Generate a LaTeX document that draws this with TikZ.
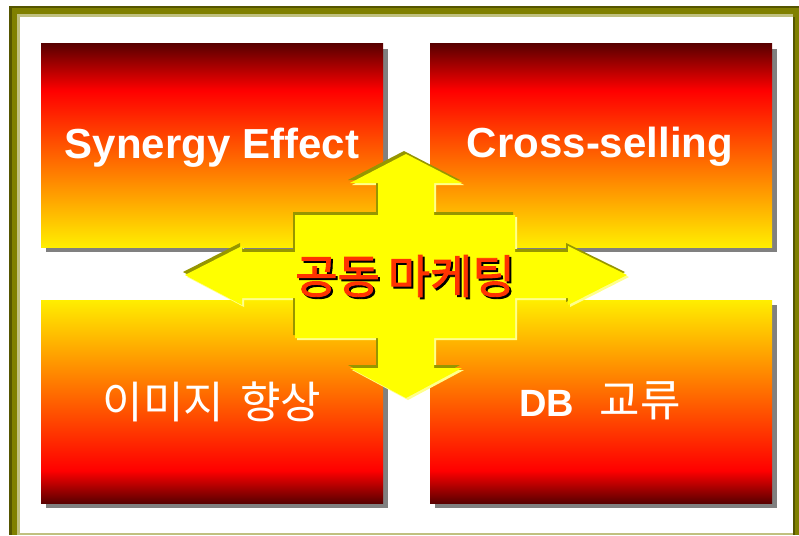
\documentclass[tikz,border=0pt]{standalone}
\usepackage{fontspec}
\setmainfont{Liberation Sans}
\newfontfamily\kr{Noto Sans CJK KR}
\newfontfamily\krmed{Noto Sans CJK KR}[FakeBold=2]
\definecolor{bdark}{RGB}{90,0,0}
\definecolor{bred}{RGB}{255,0,0}
\definecolor{byel}{RGB}{255,238,0}
\definecolor{fold}{RGB}{128,128,0}
\definecolor{fdark}{RGB}{85,85,0}
\definecolor{flight}{RGB}{192,192,128}
\definecolor{shgray}{RGB}{128,128,128}
\definecolor{arrolive}{RGB}{150,150,0}
\definecolor{arrlight}{RGB}{255,255,140}
\definecolor{arryel}{RGB}{255,255,0}
\definecolor{ctred}{RGB}{255,51,0}
\pgfdeclareverticalshading{topgrad}{100bp}{color(0bp)=(byel); color(25bp)=(byel); color(63.5bp)=(bred); color(75bp)=(bdark); color(100bp)=(bdark)}
\pgfdeclareverticalshading{botgrad}{100bp}{color(0bp)=(bdark); color(25bp)=(bdark); color(33bp)=(bred); color(75bp)=(byel); color(100bp)=(byel)}
\newcommand\crossshape{(406,154) -- (462,183) -- (434,183) -- (434,215) -- (515,215) -- (515,252) -- (568,252) -- (568,246) -- (627,275) -- (568,305) -- (568,298) -- (515,298) -- (515,338) -- (434,338) -- (434,368) -- (462,368) -- (406,398) -- (350,368) -- (378,368) -- (378,338) -- (295,338) -- (295,298) -- (242,298) -- (242,305) -- (185,275) -- (242,246) -- (242,252) -- (295,252) -- (295,215) -- (378,215) -- (378,183) -- (350,183) -- cycle}
\tikzset{
  boxtext/.style={font=\fontsize{42}{50}\selectfont\bfseries, text=white, inner sep=0pt},
  krtext/.style={font=\fontsize{44}{52}\selectfont\kr, text=white, inner sep=0pt},
  cttext/.style={font=\fontsize{46}{54}\selectfont\krmed, inner sep=0pt},
  boxshadow/.style={fill=shgray}
}
\begin{document}
\begin{tikzpicture}[x=1pt,y=-1pt]
\useasboundingbox (0,0) rectangle (799,535);
\fill[white] (0,0) rectangle (799,535);
% frame
\fill[fold] (9,6) rectangle (799,535);
\fill[fdark] (9,6) rectangle (12,535);
\fill[fdark] (9,6) rectangle (799,8);
\fill[flight] (17,14) rectangle (20,535);
\fill[flight] (17,14) rectangle (793,17);
\fill[white] (20,17) rectangle (793,533);
\fill[fdark] (793,17) rectangle (795,535);
\fill[flight] (20,533) rectangle (793,535);
% boxes
\fill[boxshadow] (46,49) rectangle (388,252);
\fill[boxshadow] (435,49) rectangle (777,252);
\fill[boxshadow] (46,305) rectangle (388,508);
\fill[boxshadow] (435,305) rectangle (777,508);
\shade[shading=topgrad] (41,44) rectangle (383,247);
\shade[shading=topgrad] (430,44) rectangle (772,247);
\shade[shading=botgrad] (41,300) rectangle (383,503);
\shade[shading=botgrad] (430,300) rectangle (772,503);
\node[boxtext, anchor=base] (t1) at (212,158) {Synergy Effect};
\node[boxtext, anchor=base] (t2) at (600,157) {Cross-selling};
\node[krtext] (t3) at (212,402) {이미지\hspace{16pt}향상};
\node[krtext] (t4) at (600,401) {{\fontsize{38}{44}\selectfont\rmfamily\bfseries DB}\hspace{26pt}교류};
% central cross arrow
\fill[arrlight, shift={(2,2)}] \crossshape;
\fill[arrolive, shift={(-2,-3)}] \crossshape;
\fill[arryel] \crossshape;
\node[cttext, text=black] (ctshadow) at (407,278) {공동\hspace{8pt}마케팅};
\node[cttext, text=ctred] (ct) at (405,276) {공동\hspace{8pt}마케팅};
\end{tikzpicture}
\end{document}
